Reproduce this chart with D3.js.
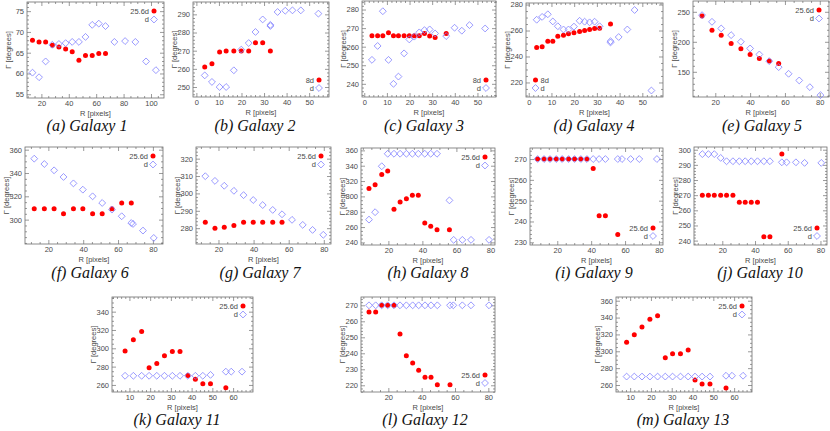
<!DOCTYPE html>
<html><head><meta charset="utf-8">
<script src="https://cdn.jsdelivr.net/npm/d3@7/dist/d3.min.js"></script>
<style>body{margin:0;background:#fff}</style>
</head><body>
<svg id="c" width="830" height="431"></svg>
<script>
// ---------------- DATA ----------------
const captions = ["(a) Galaxy 1","(b) Galaxy 2","(c) Galaxy 3","(d) Galaxy 4","(e) Galaxy 5",
  "(f) Galaxy 6","(g) Galaxy 7","(h) Galaxy 8","(i) Galaxy 9","(j) Galaxy 10",
  "(k) Galaxy 11","(l) Galaxy 12","(m) Galaxy 13"];
const legendRed = ["25.6d","8d","8d","8d","25.6d","25.6d","25.6d","25.6d","25.6d","25.6d","25.6d","25.6d","25.6d"];
const legendBlue = "d";
const xTitle = "R [pixels]";
const yTitle = "Γ [degrees]";

// Galaxy 1
const rRed1 = [13.5,18.3,23.1,28,32.8,37.7,42.5,47.4,52.2,57.1,61.9,66.8];
const gRed1 = [68.0,67.6,67.6,66.8,66.4,65.9,65.2,63.2,64.3,64.3,64.8,64.8];
const rD1 = [13.5,18.3,23.1,28,32.8,37.7,42.5,47.4,52.2,57.1,61.9,66.8,73.3,81.1,88.6,96.4,103.6];
const gD1 = [60.2,59.1,62.9,66.9,67.1,67.3,67.6,67.6,68.8,71.7,72.0,71.4,67.6,67.8,67.6,62.9,60.8];
// Galaxy 2
const rRed2 = [3.7,6.9,10.3,13.2,16.6,19.9,23.2,26.2,29.4,32.8];
const gRed2 = [261.0,262.8,269.3,269.8,269.8,269.8,269.8,274.4,274.4,269.8];
const rD2 = [3.7,6.9,10.3,13.2,16.6,19.9,23.2,26.2,29.4,32.8,32.8,36,39.4,42.6,46.3,54.1];
const gD2 = [256.4,252.8,250.0,250.0,259.2,270.6,274.2,280.3,287.2,283.6,284.2,291.3,292.0,292.2,292.2,290.4];
// Galaxy 3
const rRed3 = [3.4,5.9,8.2,10.7,12.9,15.1,17.6,19.9,22.1,24.3,26.6,28.9,31.3,36.2];
const gRed3 = [265.9,265.9,265.9,267.5,265.9,265.9,265.9,265.9,265.9,265.9,267.1,265.7,265.0,267.1];
const rD3 = [3.4,5.9,8.2,10.7,12.9,15.1,17.6,19.9,22.1,24.3,26.6,28.9,31.3,36.2,39.9,43.1,46.5,53.4];
const gD3 = [252.9,260.4,279.1,252.9,240,243.9,256.4,263.9,265.4,267.7,268.9,269.3,267.1,265.7,270.2,268.6,271.6,269.8];
// Galaxy 4
const rRed4 = [3.5,5.9,8.4,10.6,12.8,15.3,17.5,19.9,22.4,24.6,26.8,29,31.2,36];
const gRed4 = [247,247.5,251.8,251.8,255.5,256.3,257.5,258.3,259.3,260,260.8,261.5,261.8,265];
const rD4 = [3.5,5.9,8.4,10.6,12.8,15.3,17.5,19.9,22.4,24.6,26.8,29,31.2,36,36,39.6,43.4,46.6,54];
const gD4 = [268.3,270.5,272.5,267,263.3,260.8,260.8,263,267.5,266.8,266.3,266.8,263.3,251.8,250.8,255,260.8,275.8,213.8];
// Galaxy 5
const rRed5 = [12.4,18.1,23.4,29.1,34.7,40,45.3,51,56.4];
const gRed5 = [242.8,219.4,211.1,197.2,188.3,178.9,172.2,167.8,163.9];
const rD5 = [12.4,18.1,23.4,29.1,34.7,40,45.3,51,56.4,62.1,68.2,74.3,80.4];
const gD5 = [244.4,233.3,222.2,211.1,200,188.9,178.9,167.8,157.8,146.7,135.6,124.4,111.1];
// Galaxy 6
const rRed6 = [11.9,17.7,23.3,28.7,34.4,39.8,45.4,50.9,56.5,62.1,67.6];
const gRed6 = [309.4,309.4,309.4,305.1,309.4,309.4,305.1,305.1,309.4,314.3,314.3];
const rD6 = [11.9,17.7,23.3,28.7,34.4,39.8,45.4,50.9,56.5,62.1,67.6,68.6,74.3,80.5];
const gD6 = [352.3,347.7,342.3,336.6,331.1,325.7,320,314.3,308.6,302.9,297.1,296.3,290.6,284.3];
// Galaxy 7
const rRed7 = [12.5,18,23.3,28.8,34.3,39.8,45.2,50.9,56.2];
const gRed7 = [283.4,280,280.6,281.5,283.4,283.4,283.4,283.4,283.4];
const rD7 = [12.5,18,23.3,28.8,34.3,39.8,45.2,50.9,56.2,61.9,68,73.6,79.7];
const gD7 = [309.9,307.2,304.4,301.5,299,296.2,293.3,290.5,288,284.8,281.9,279,276.2];
// Galaxy 8
const rRed8 = [8.6,12.2,16.1,19.6,23.3,26.9,30.6,34.1,37.6,41.4,44.9,48.6,55.9];
const gRed8 = [310.2,315.1,328.7,333.1,283.3,292.6,297,301.4,301.4,265.3,260.9,256.5,256.5];
const rD8 = [8.6,12.2,16.1,19.6,23.3,26.9,30.6,34.1,37.6,41.4,44.9,48.6,55.9,58.4,63.5,68.6,79.2];
const gD8 = [269.7,279.4,339.3,355.6,355.6,355.6,355.6,355.6,355.6,355.6,355.6,355.6,294.8,243.3,243.3,243.3,243.3];
// Galaxy 9
const rRed9 = [8.4,12.2,15.7,19.4,22.9,26.7,30.2,33.9,37.5,41.2,44.7,48.4,55.7];
const gRed9 = [270,270,270,270,270,270,270,270,270,265.5,242.8,242.8,233.7];
const rD9 = [8.4,12.2,15.7,19.4,22.9,26.7,30.2,33.9,37.5,41.2,44.7,48.4,55.7,58.2,63.3,68.4,78.8];
const gD9 = [270,270,270,270,270,270,270,270,270,270,270,270,270,270,270,270,270];
// Galaxy 10
const rRed10 = [7.8,11.5,15.1,19,22.6,26.5,30.4,34,37.7,41.5,45.4,49.1,56.4];
const gRed10 = [270,270,270,270,270,270,265.4,265.4,265.4,265.4,242.6,242.6,297.1];
const rD10 = [7.8,11.5,15.1,19,22.6,26.5,30.4,34,37.7,41.5,45.4,49.1,56.4,59.3,65,70.3,80.5];
const gD10 = [297.1,297.1,297.1,294.6,292.4,292.4,292.4,292.4,292.4,292.4,292.4,292.4,291.7,291.7,291.7,291.3,291.3];
// Galaxy 11
const rRed11 = [7.9,11.9,15.9,19.5,23.2,26.9,30.7,34.4,38.2,41.8,45.4,49.1,56.5];
const gRed11 = [297,309.2,318.3,278.9,283.3,292,296.4,296.4,270.2,266.2,261.4,261.4,257];
const rD11 = [7.9,11.9,15.9,19.5,23.2,26.9,30.7,34.4,38.2,41.8,45.4,49.1,56.5,59.1,64.3];
const gD11 = [270,270,270,270,270,270,270,270,270,270,270,271,274.5,274.5,274.5];
// Galaxy 12
const rRed12 = [8.4,12.4,16,19.6,23.4,27,30.8,34.6,38.2,42,45.6,49.4,57];
const gRed12 = [265.8,265.8,270,270,270,252.1,238.5,234,229.4,225,225,220.4,220.4];
const rD12 = [8.4,12.4,16,19.6,23.4,27,30.8,34.6,38.2,42,45.6,49.4,57,59,64.4,69.6,80.4];
const gD12 = [270,270,270,270,270,270,270,270,270,270,270,270,270,270,270,270,270];
// Galaxy 13
const rRed13 = [8.3,12,15.7,19.5,23.2,26.9,30.4,34.2,37.9,41.2,44.6,48.4,56.1];
const gRed13 = [310.6,319.7,328.8,337.9,342.2,292.4,297.2,297.2,301.5,265.9,261.2,261.2,256.4];
const rD13 = [8.3,12,15.7,19.5,23.2,26.9,30.4,34.2,37.9,41.2,44.6,48.4,56.1,59,64.3];
const gD13 = [270,270,270,270,270,270,270,270,270,270,270,270,271,271,271];

// tick labels
const xTicksA = [20,40,60,80,100];
const xTicksB = [0,10,20,30,40,50];
const xTicksE = [20,40,60,80];
const xTicksK = [10,20,30,40,50,60];
const yTicks1 = [55,60,65,70,75];
const yTicks2 = [250,260,270,280,290];
const yTicks3 = [240,250,260,270,280];
const yTicks4 = [220,240,260,280];
const yTicks5 = [150,200,250];
const yTicks6 = [300,320,340,360];
const yTicks7 = [280,290,300,310,320];
const yTicks8 = [240,260,280,300,320,340,360];
const yTicks9 = [230,240,250,260,270];
const yTicks10 = [240,250,260,270,280,290,300];
const yTicks11 = [260,280,300,320,340];
const yTicks12 = [220,230,240,250,260,270];
const yTicks13 = [260,280,300,320,340,360];

const redR = [rRed1,rRed2,rRed3,rRed4,rRed5,rRed6,rRed7,rRed8,rRed9,rRed10,rRed11,rRed12,rRed13];
const redG = [gRed1,gRed2,gRed3,gRed4,gRed5,gRed6,gRed7,gRed8,gRed9,gRed10,gRed11,gRed12,gRed13];
const bluR = [rD1,rD2,rD3,rD4,rD5,rD6,rD7,rD8,rD9,rD10,rD11,rD12,rD13];
const bluG = [gD1,gD2,gD3,gD4,gD5,gD6,gD7,gD8,gD9,gD10,gD11,gD12,gD13];
const xTickSets = [xTicksA,xTicksB,xTicksB,xTicksB,xTicksE,xTicksE,xTicksE,xTicksE,xTicksE,xTicksE,xTicksK,xTicksE,xTicksK];
const yTickSets = [yTicks1,yTicks2,yTicks3,yTicks4,yTicks5,yTicks6,yTicks7,yTicks8,yTicks9,yTicks10,yTicks11,yTicks12,yTicks13];

// ---------------- LAYOUT ----------------
const layout = [
  {x0:27,x1:164,y0:2,y1:98,xd:[9.5,109.5],yd:[54.1,77.2],cx:87,cy:131,leg:"tr"},
  {x0:193,x1:329,y0:2,y1:97,xd:[-1.5,58.8],yd:[244.5,296.8],cx:255,cy:131,leg:"br"},
  {x0:362,x1:496,y0:1,y1:97,xd:[-1,58.2],yd:[232.9,284.6],cx:424,cy:131,leg:"br"},
  {x0:526,x1:663,y0:3,y1:97,xd:[-1.2,59.1],yd:[208.8,281.2],cx:594,cy:131,leg:"bl"},
  {x0:693,x1:829,y0:1,y1:97,xd:[7.2,85.3],yd:[108,268],cx:762,cy:131,leg:"tr"},
  {x0:25,x1:163,y0:147,y1:244,xd:[6.6,85.8],yd:[279.1,362.3],cx:90,cy:278,leg:"tr"},
  {x0:196,x1:331,y0:147,y1:244,xd:[7.2,84.1],yd:[270.9,326.7],cx:260,cy:278,leg:"tr"},
  {x0:361,x1:495,y0:148,y1:245,xd:[3.9,82.7],yd:[236.6,363.1],cx:428,cy:278,leg:"tr"},
  {x0:530,x1:663,y0:148,y1:245,xd:[3.9,82.4],yd:[228.7,275.3],cx:594,cy:278,leg:"br"},
  {x0:694,x1:827,y0:147,y1:245,xd:[2.7,84],yd:[237.1,301.8],cx:760,cy:278,leg:"br"},
  {x0:112,x1:253,y0:297,y1:392,xd:[1.6,69.6],yd:[252.3,356],cx:177,cy:425,leg:"tr"},
  {x0:361,x1:495,y0:297,y1:392,xd:[3.6,84],yd:[215.8,275.2],cx:425,cy:425,leg:"br"},
  {x0:616,x1:752,y0:297,y1:392,xd:[3.2,68.6],yd:[251.7,364.4],cx:683,cy:425,leg:"tr"}
];

const RED = "#ff0000", BLUE = "#8080ff", AX = "#6e6e6e", TXT = "#4a4a4a";
const FS = 7.5;
const svg = d3.select("#c");
const diamond = d3.symbol().type(d3.symbolDiamond2 || d3.symbolDiamond).size(30);

function minorTicks(domain, major){
  const step = major[1]-major[0];
  const n = (step===20 || step===40) ? 4 : 5;
  const ms = step/n;
  const out = [];
  const start = Math.ceil(domain[0]/ms)*ms;
  for(let v=start; v<=domain[1]+1e-9; v+=ms){
    const r = Math.round(v*1000)/1000;
    if(!major.some(m=>Math.abs(m-r)<1e-6)) out.push(r);
  }
  return out;
}

function styleAxis(g){
  g.select(".domain").remove();
  g.selectAll("line").attr("stroke",AX).attr("stroke-width",0.7);
  g.selectAll("text").attr("fill",TXT).attr("font-family","Liberation Sans, Arial, sans-serif").attr("font-size",FS);
}

layout.forEach((L,i)=>{
  const x = d3.scaleLinear().domain(L.xd).range([L.x0,L.x1]);
  const y = d3.scaleLinear().domain(L.yd).range([L.y1,L.y0]);
  const g = svg.append("g");
  const xt = xTickSets[i], yt = yTickSets[i];
  const xm = minorTicks(L.xd, xt), ym = minorTicks(L.yd, yt);

  // axes (ticks inward)
  g.append("g").attr("transform",`translate(0,${L.y1})`)
    .call(d3.axisBottom(x).tickValues(xt).tickSize(-4).tickPadding(3).tickFormat(d3.format("d"))).call(styleAxis);
  g.append("g").attr("transform",`translate(0,${L.y1})`)
    .call(d3.axisBottom(x).tickValues(xm).tickSize(-2).tickFormat("")).call(styleAxis);
  g.append("g").attr("transform",`translate(0,${L.y0})`)
    .call(d3.axisTop(x).tickValues(xt).tickSize(-4).tickFormat("")).call(styleAxis);
  g.append("g").attr("transform",`translate(0,${L.y0})`)
    .call(d3.axisTop(x).tickValues(xm).tickSize(-2).tickFormat("")).call(styleAxis);
  g.append("g").attr("transform",`translate(${L.x0},0)`)
    .call(d3.axisLeft(y).tickValues(yt).tickSize(-4).tickPadding(3).tickFormat(d3.format("d"))).call(styleAxis);
  g.append("g").attr("transform",`translate(${L.x0},0)`)
    .call(d3.axisLeft(y).tickValues(ym).tickSize(-2).tickFormat("")).call(styleAxis);
  g.append("g").attr("transform",`translate(${L.x1},0)`)
    .call(d3.axisRight(y).tickValues(yt).tickSize(-4).tickFormat("")).call(styleAxis);
  g.append("g").attr("transform",`translate(${L.x1},0)`)
    .call(d3.axisRight(y).tickValues(ym).tickSize(-2).tickFormat("")).call(styleAxis);

  g.append("rect").attr("x",L.x0).attr("y",L.y0).attr("width",L.x1-L.x0).attr("height",L.y1-L.y0)
    .attr("fill","none").attr("stroke",AX).attr("stroke-width",0.8);

  // titles
  g.append("text").attr("x",(L.x0+L.x1)/2).attr("y",L.y1+17.5).attr("text-anchor","middle")
    .attr("font-family","Liberation Sans, Arial, sans-serif").attr("font-size",FS).attr("fill",TXT).text(xTitle);
  g.append("text").attr("transform",`translate(${L.x0-16.5},${(L.y0+L.y1)/2}) rotate(-90)`).attr("text-anchor","middle")
    .attr("font-family","Liberation Sans, Arial, sans-serif").attr("font-size",FS).attr("fill",TXT).text(yTitle);

  // marks
  const pts = redR[i].map((r,j)=>({r, v:redG[i][j]}));
  g.append("g").selectAll("circle").data(pts).join("circle")
    .attr("cx",d=>x(d.r)).attr("cy",d=>y(d.v)).attr("r",2.5).attr("fill",RED);
  const dps = bluR[i].map((r,j)=>({r, v:bluG[i][j]}));
  g.append("g").selectAll("path").data(dps).join("path")
    .attr("d",diamond).attr("transform",d=>`translate(${x(d.r)},${y(d.v)})`)
    .attr("fill","none").attr("stroke",BLUE).attr("stroke-width",0.8);

  // legend
  let lx, ly1, ly2, anchor, tx;
  if(L.leg==="tr"){ lx=L.x1-10; ly1=L.y0+9; ly2=L.y0+17.5; anchor="end"; tx=lx-5; }
  else if(L.leg==="br"){ lx=L.x1-10; ly1=L.y1-17; ly2=L.y1-9; anchor="end"; tx=lx-5; }
  else { lx=L.x0+9.5; ly1=L.y1-17; ly2=L.y1-9; anchor="start"; tx=lx+5; }
  g.append("circle").attr("cx",lx).attr("cy",ly1).attr("r",2.5).attr("fill",RED);
  g.append("path").attr("d",diamond).attr("transform",`translate(${lx},${ly2})`).attr("fill","none").attr("stroke",BLUE).attr("stroke-width",0.8);
  [[ly1,legendRed[i]],[ly2,legendBlue]].forEach(([yy,t])=>{
    g.append("text").attr("x",tx).attr("y",yy+2.8).attr("text-anchor",anchor)
      .attr("font-family","Liberation Sans, Arial, sans-serif").attr("font-size",FS).attr("fill",TXT).text(t);
  });

  // caption
  g.append("text").attr("x",L.cx).attr("y",L.cy).attr("text-anchor","middle")
    .attr("font-family","Liberation Serif, Times New Roman, serif").attr("font-style","italic").attr("font-size",16)
    .attr("fill","#111").text(captions[i]);
});
</script>
</body></html>
